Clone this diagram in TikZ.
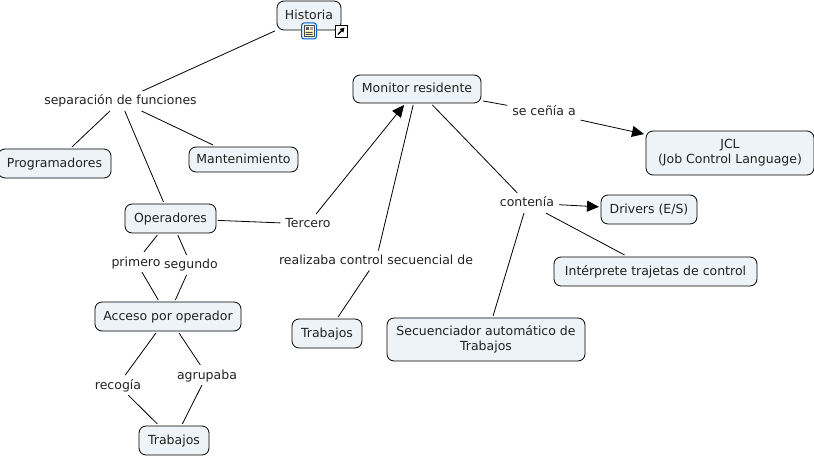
\documentclass[tikz,border=0pt]{standalone}
\usepackage{fontspec}
\setmainfont{DejaVu Sans}
\usetikzlibrary{arrows.meta}
\definecolor{conceptfill}{HTML}{EDF3F6}
\definecolor{inktext}{HTML}{222222}
\tikzset{
  concept/.style={draw=black, line width=0.8pt, fill=conceptfill, rounded corners=7pt, align=center, text=inktext,
    font=\fontsize{12.5}{15}\selectfont, text height=9pt, text depth=1pt, inner sep=0pt, outer sep=2pt},
  twolines/.style={text height=, text depth=},
  linklabel/.style={align=center, text=inktext, font=\fontsize{12.5}{15}\selectfont, text height=9pt, text depth=1pt, inner sep=3pt, outer sep=2pt},
  link/.style={draw=black, line width=0.8pt},
  linkto/.style={link, -{Triangle[length=12pt,width=11pt]}}
}
\begin{document}
\begin{tikzpicture}[x=1pt,y=-1pt]
  \useasboundingbox (0,0) rectangle (814,457);
  % concepts
  \node[concept, minimum width=64pt, minimum height=29pt] (historia) at (309,15.5) {Historia};
  \node[concept, minimum width=128pt, minimum height=28pt] (monitor) at (417,89) {Monitor residente};
  \node[concept, twolines, minimum width=168pt, minimum height=44pt] (jcl) at (730,153) {JCL\\(Job Control Language)};
  \node[concept, minimum width=96pt, minimum height=29pt] (drivers) at (649,209.5) {Drivers (E/S)};
  \node[concept, minimum width=203pt, minimum height=29pt] (interprete) at (655.5,271.5) {Intérprete trajetas de control};
  \node[concept, twolines, minimum width=198pt, minimum height=43pt] (secuenciador) at (486,339.5) {Secuenciador automático de\\Trabajos};
  \node[concept, minimum width=70pt, minimum height=29pt] (trabajosder) at (327,333.5) {Trabajos};
  \node[concept, minimum width=91pt, minimum height=29pt] (operadores) at (170.5,218.5) {Operadores};
  \node[concept, minimum width=113pt, minimum height=29pt] (programadores) at (54.5,163.5) {Programadores};
  \node[concept, minimum width=109pt, minimum height=25pt] (mantenimiento) at (243.5,159.5) {Mantenimiento};
  \node[concept, minimum width=146pt, minimum height=29pt] (acceso) at (168,316.5) {Acceso por operador};
  \node[concept, minimum width=70pt, minimum height=29pt] (trabajosizq) at (174,440.5) {Trabajos};
  % link labels
  \node[linklabel] (separacion) at (120.5,101) {separación de funciones};
  \node[linklabel] (primero) at (136,262) {primero};
  \node[linklabel] (segundo) at (191,265) {segundo};
  \node[linklabel] (recogia) at (118,385) {recogía};
  \node[linklabel] (agrupaba) at (207,375) {agrupaba};
  \node[linklabel] (tercero) at (308,224) {Tercero};
  \node[linklabel] (realizaba) at (376,260.5) {realizaba control secuencial de};
  \node[linklabel] (cenia) at (544,112) {se ceñía a};
  \node[linklabel] (contenia) at (527,203) {contenía};
  % connectors
  \draw[link] (historia) -- (separacion);
  \draw[link] (separacion) -- (programadores);
  \draw[link] (separacion) -- (mantenimiento);
  \draw[link] (separacion) -- (operadores);
  \draw[link] (operadores) -- (primero);
  \draw[link] (operadores) -- (segundo);
  \draw[link] (primero) -- (acceso);
  \draw[link] (segundo) -- (acceso);
  \draw[link] (acceso) -- (recogia);
  \draw[link] (acceso) -- (agrupaba);
  \draw[link] (recogia) -- (trabajosizq);
  \draw[link] (agrupaba) -- (trabajosizq);
  \draw[link] (operadores) -- (tercero);
  \draw[linkto] (tercero) -- (monitor);
  \draw[link] (monitor) -- (realizaba);
  \draw[link] (realizaba) -- (trabajosder);
  \draw[link] (monitor) -- (cenia);
  \draw[linkto] (cenia) -- (jcl);
  \draw[link] (monitor) -- (contenia);
  \draw[linkto] (contenia) -- (drivers);
  \draw[link] (contenia) -- (interprete);
  \draw[link] (contenia) -- (secuenciador);
  % resource icons
  \node[draw=blue!55!cyan!80!black, fill=cyan!15, rounded corners=2.5pt, line width=1pt, minimum width=15pt, minimum height=16pt, inner sep=0pt] (iconodoc) at (309,31) {};
  \fill[yellow!25, draw=black!70, line width=0.5pt] (304,25.5) rectangle (314,36.5);
  \fill[black!65] (305.5,27) rectangle (308.5,30.5);
  \fill[gray!70] (309.5,27) rectangle (313,30.5);
  \fill[black!70] (305.5,32) rectangle (312.5,32.8) (305.5,34) rectangle (312.5,34.8);
  \node[draw=black, fill=white, line width=0.8pt, minimum width=12pt, minimum height=12pt, inner sep=0pt] (iconolink) at (341,31) {};
  \draw[-{Triangle[length=4.5pt,width=5pt]}, line width=1.4pt] (338,34.5) -- (344.5,27.5);
\end{tikzpicture}
\end{document}
